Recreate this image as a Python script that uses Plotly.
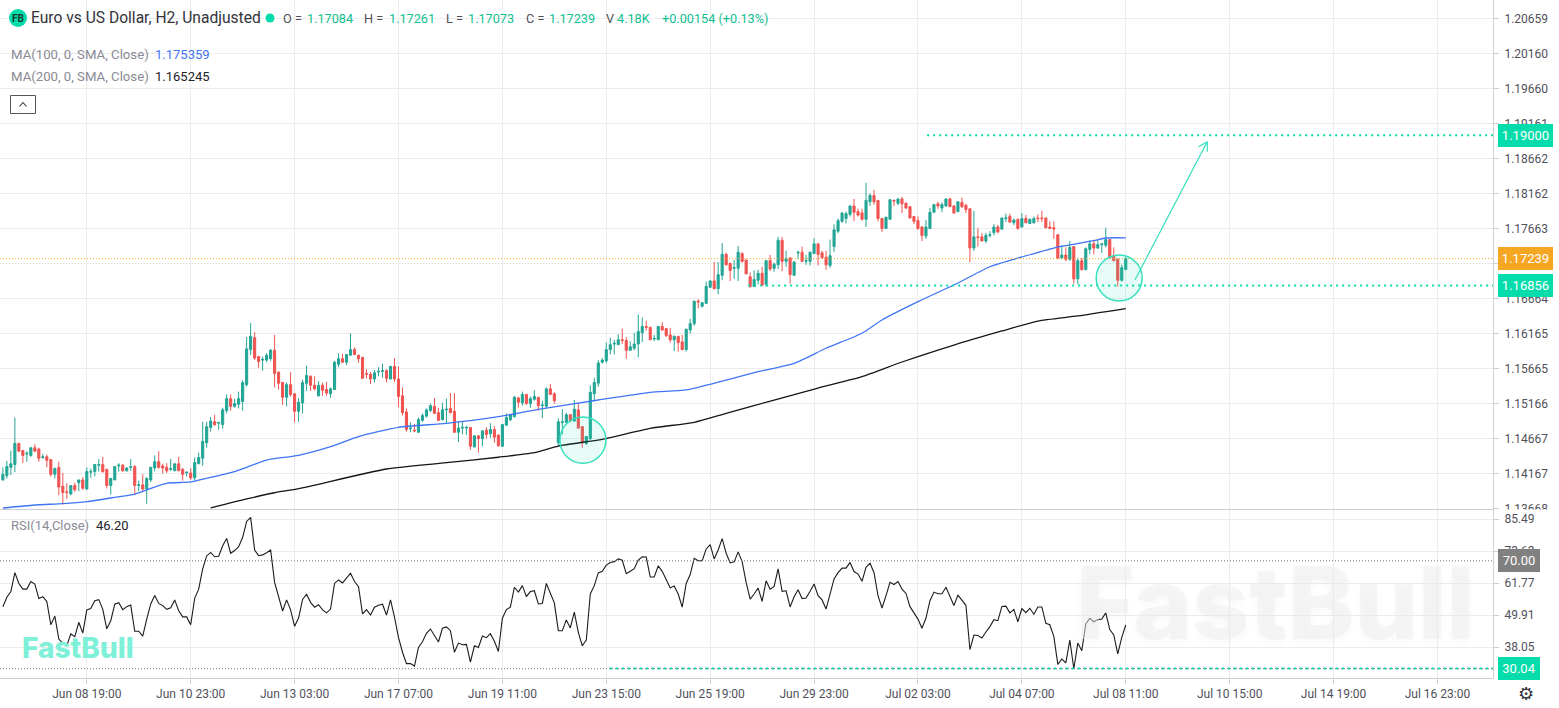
import plotly.graph_objects as go

W, H = 1559, 708

bar_index = list(range(-21, 261))

opens = [
1.1408,1.1414,1.1426,1.1430,1.1460,1.1450,1.1445,1.1443,1.1454,1.1452,
1.1440,1.1441,1.1437,1.1416,1.1426,1.1399,1.1391,1.1388,1.1400,1.1404,
1.1408,1.1395,1.1419,1.1420,1.1429,1.1430,1.1423,1.1400,1.1408,1.1428,
1.1429,1.1421,1.1426,1.1427,1.1400,1.1401,1.1395,1.1408,1.1425,1.1434,
1.1428,1.1426,1.1423,1.1421,1.1431,1.1423,1.1418,1.1418,1.1411,1.1431,
1.1439,1.1461,1.1483,1.1491,1.1489,1.1487,1.1507,1.1524,1.1513,1.1516,
1.1520,1.1544,1.1594,1.1611,1.1584,1.1579,1.1579,1.1581,1.1593,1.1562,
1.1547,1.1526,1.1544,1.1531,1.1506,1.1518,1.1546,1.1556,1.1543,1.1528,
1.1543,1.1537,1.1531,1.1537,1.1573,1.1581,1.1576,1.1586,1.1594,1.1586,
1.1583,1.1560,1.1559,1.1552,1.1562,1.1563,1.1564,1.1552,1.1570,1.1552,
1.1528,1.1505,1.1481,1.1479,1.1476,1.1493,1.1499,1.1507,1.1513,1.1504,
1.1494,1.1508,1.1510,1.1506,1.1476,1.1482,1.1482,1.1483,1.1455,1.1471,
1.1467,1.1479,1.1474,1.1480,1.1472,1.1456,1.1486,1.1494,1.1498,1.1525,
1.1518,1.1530,1.1517,1.1523,1.1526,1.1514,1.1513,1.1538,1.1531,1.1461,
1.1490,1.1490,1.1501,1.1492,1.1508,1.1484,1.1460,1.1467,1.1531,1.1546,
1.1576,1.1578,1.1594,1.1602,1.1601,1.1608,1.1607,1.1593,1.1596,1.1602,
1.1618,1.1627,1.1626,1.1609,1.1608,1.1627,1.1624,1.1615,1.1608,1.1613,
1.1605,1.1594,1.1622,1.1631,1.1663,1.1656,1.1660,1.1683,1.1692,1.1681,
1.1700,1.1730,1.1717,1.1710,1.1710,1.1731,1.1722,1.1698,1.1684,1.1693,
1.1703,1.1687,1.1721,1.1710,1.1715,1.1750,1.1720,1.1725,1.1700,1.1732,
1.1733,1.1720,1.1720,1.1731,1.1745,1.1732,1.1726,1.1714,1.1741,1.1763,
1.1777,1.1781,1.1787,1.1799,1.1791,1.1789,1.1780,1.1805,1.1814,1.1807,
1.1781,1.1767,1.1780,1.1807,1.1803,1.1809,1.1803,1.1798,1.1784,1.1778,
1.1769,1.1756,1.1767,1.1790,1.1802,1.1796,1.1799,1.1809,1.1799,1.1791,
1.1804,1.1800,1.1795,1.1739,1.1755,1.1755,1.1749,1.1757,1.1761,1.1769,
1.1766,1.1781,1.1784,1.1775,1.1780,1.1769,1.1781,1.1774,1.1775,1.1782,
1.1782,1.1782,1.1769,1.1768,1.1758,1.1725,1.1729,1.1723,1.1741,1.1695,
1.1721,1.1708,1.1737,1.1745,1.1739,1.1744,1.1743,1.1751,1.1728,1.1723,
1.1693,1.17084]

highs = [
1.1426,1.1435,1.1450,1.1497,1.1461,1.1450,1.1449,1.1454,1.1459,1.1454,
1.1445,1.1444,1.1437,1.1426,1.1434,1.1418,1.1403,1.1400,1.1404,1.1408,
1.1412,1.1426,1.1424,1.1430,1.1438,1.1441,1.1424,1.1411,1.1428,1.1432,
1.1431,1.1426,1.1438,1.1429,1.1407,1.1416,1.1412,1.1426,1.1443,1.1449,
1.1431,1.1432,1.1438,1.1431,1.1441,1.1425,1.1420,1.1425,1.1440,1.1447,
1.1491,1.1491,1.1498,1.1501,1.1491,1.1511,1.1530,1.1530,1.1524,1.1534,
1.1550,1.1612,1.1632,1.1619,1.1585,1.1584,1.1589,1.1595,1.1615,1.1562,
1.1548,1.1547,1.1562,1.1532,1.1525,1.1551,1.1571,1.1557,1.1556,1.1549,
1.1547,1.1548,1.1540,1.1578,1.1589,1.1588,1.1587,1.1617,1.1597,1.1587,
1.1583,1.1566,1.1562,1.1565,1.1569,1.1574,1.1566,1.1571,1.1582,1.1570,
1.1540,1.1510,1.1490,1.1488,1.1497,1.1503,1.1510,1.1517,1.1525,1.1511,
1.1518,1.1524,1.1532,1.1532,1.1492,1.1492,1.1485,1.1483,1.1471,1.1471,
1.1479,1.1483,1.1489,1.1485,1.1473,1.1488,1.1503,1.1502,1.1528,1.1527,
1.1534,1.1531,1.1527,1.1536,1.1526,1.1521,1.1540,1.1545,1.1533,1.1496,
1.1509,1.1504,1.1502,1.1522,1.1518,1.1485,1.1470,1.1543,1.1554,1.1579,
1.1582,1.1604,1.1611,1.1608,1.1616,1.1624,1.1612,1.1606,1.1618,1.1644,
1.1640,1.1635,1.1626,1.1615,1.1627,1.1633,1.1625,1.1625,1.1614,1.1613,
1.1615,1.1624,1.1638,1.1664,1.1666,1.1661,1.1691,1.1693,1.1719,1.1719,
1.1746,1.1732,1.1718,1.1722,1.1742,1.1733,1.1722,1.1704,1.1707,1.1708,
1.1712,1.1721,1.1729,1.1718,1.1755,1.1755,1.1735,1.1725,1.1720,1.1735,
1.1741,1.1729,1.1734,1.1753,1.1745,1.1735,1.1735,1.1751,1.1773,1.1781,
1.1790,1.1791,1.1800,1.1809,1.1795,1.1795,1.1832,1.1817,1.1822,1.1807,
1.1782,1.1783,1.1809,1.1808,1.1810,1.1812,1.1804,1.1799,1.1784,1.1784,
1.1770,1.1779,1.1796,1.1802,1.1805,1.1804,1.1810,1.1811,1.1800,1.1806,
1.1811,1.1802,1.1795,1.1792,1.1768,1.1760,1.1761,1.1763,1.1773,1.1772,
1.1782,1.1788,1.1788,1.1781,1.1781,1.1789,1.1786,1.1781,1.1784,1.1787,
1.1792,1.1782,1.1777,1.1777,1.1759,1.1743,1.1740,1.1749,1.1741,1.1725,
1.1725,1.1740,1.1750,1.1751,1.1751,1.1746,1.1768,1.1751,1.1740,1.1724,
1.1715,1.17261]

lows = [
1.1407,1.1410,1.1415,1.1419,1.1448,1.1432,1.1434,1.1441,1.1448,1.1434,
1.1438,1.1426,1.1413,1.1410,1.1386,1.1373,1.1381,1.1386,1.1391,1.1392,
1.1394,1.1394,1.1411,1.1413,1.1420,1.1418,1.1396,1.1387,1.1408,1.1420,
1.1420,1.1420,1.1421,1.1387,1.1392,1.1392,1.1374,1.1405,1.1420,1.1424,
1.1417,1.1418,1.1421,1.1421,1.1421,1.1407,1.1413,1.1408,1.1407,1.1431,
1.1428,1.1454,1.1477,1.1485,1.1480,1.1481,1.1503,1.1507,1.1511,1.1510,
1.1507,1.1541,1.1586,1.1579,1.1568,1.1564,1.1576,1.1578,1.1540,1.1537,
1.1515,1.1513,1.1527,1.1490,1.1491,1.1503,1.1535,1.1535,1.1536,1.1527,
1.1528,1.1528,1.1525,1.1537,1.1569,1.1575,1.1572,1.1586,1.1586,1.1575,
1.1553,1.1553,1.1545,1.1547,1.1556,1.1554,1.1547,1.1552,1.1548,1.1512,
1.1500,1.1477,1.1476,1.1476,1.1476,1.1491,1.1497,1.1505,1.1502,1.1492,
1.1493,1.1488,1.1503,1.1475,1.1462,1.1473,1.1472,1.1451,1.1455,1.1447,
1.1456,1.1467,1.1468,1.1461,1.1455,1.1456,1.1486,1.1492,1.1498,1.1511,
1.1514,1.1515,1.1511,1.1521,1.1507,1.1496,1.1511,1.1529,1.1517,1.1456,
1.1473,1.1489,1.1491,1.1492,1.1481,1.1454,1.1458,1.1465,1.1520,1.1541,
1.1574,1.1575,1.1587,1.1587,1.1601,1.1602,1.1581,1.1593,1.1593,1.1583,
1.1605,1.1621,1.1608,1.1606,1.1608,1.1621,1.1612,1.1604,1.1592,1.1591,
1.1593,1.1591,1.1617,1.1628,1.1653,1.1654,1.1660,1.1682,1.1680,1.1673,
1.1693,1.1714,1.1692,1.1695,1.1692,1.1718,1.1702,1.1682,1.1684,1.1687,
1.1685,1.1684,1.1706,1.1705,1.1709,1.1706,1.1712,1.1688,1.1700,1.1723,
1.1719,1.1715,1.1714,1.1731,1.1714,1.1724,1.1708,1.1711,1.1733,1.1760,
1.1775,1.1774,1.1784,1.1777,1.1784,1.1778,1.1769,1.1799,1.1801,1.1777,
1.1762,1.1766,1.1779,1.1799,1.1800,1.1789,1.1795,1.1781,1.1773,1.1765,
1.1749,1.1752,1.1766,1.1790,1.1795,1.1790,1.1798,1.1798,1.1788,1.1790,
1.1796,1.1789,1.1719,1.1735,1.1741,1.1749,1.1746,1.1754,1.1757,1.1760,
1.1765,1.1776,1.1775,1.1772,1.1765,1.1768,1.1775,1.1773,1.1774,1.1776,
1.1776,1.1767,1.1766,1.1752,1.1723,1.1723,1.1720,1.1721,1.1688,1.1687,
1.1707,1.1708,1.1730,1.1730,1.1738,1.1732,1.1740,1.1724,1.1720,1.1684,
1.1691,1.17073]

closes = [
1.1416,1.1427,1.1431,1.1460,1.1449,1.1443,1.1446,1.1454,1.1449,1.1439,
1.1441,1.1436,1.1416,1.1424,1.1398,1.1390,1.1390,1.1400,1.1394,1.1408,
1.1396,1.1420,1.1420,1.1430,1.1430,1.1420,1.1400,1.1410,1.1427,1.1429,
1.1421,1.1425,1.1427,1.1400,1.1401,1.1395,1.1410,1.1426,1.1434,1.1426,
1.1425,1.1421,1.1424,1.1431,1.1421,1.1416,1.1419,1.1411,1.1433,1.1440,
1.1463,1.1484,1.1492,1.1487,1.1490,1.1508,1.1524,1.1513,1.1517,1.1524,
1.1547,1.1595,1.1613,1.1582,1.1577,1.1580,1.1586,1.1593,1.1560,1.1546,
1.1526,1.1544,1.1530,1.1506,1.1519,1.1547,1.1557,1.1543,1.1538,1.1543,
1.1536,1.1532,1.1538,1.1576,1.1581,1.1576,1.1587,1.1594,1.1587,1.1581,
1.1553,1.1559,1.1552,1.1561,1.1563,1.1564,1.1553,1.1570,1.1552,1.1527,
1.1504,1.1480,1.1482,1.1478,1.1494,1.1500,1.1508,1.1514,1.1503,1.1493,
1.1508,1.1509,1.1504,1.1476,1.1482,1.1483,1.1483,1.1456,1.1471,1.1467,
1.1478,1.1473,1.1480,1.1469,1.1457,1.1487,1.1497,1.1501,1.1526,1.1519,
1.1530,1.1517,1.1524,1.1527,1.1514,1.1515,1.1538,1.1530,1.1521,1.1491,
1.1491,1.1501,1.1492,1.1509,1.1482,1.1461,1.1470,1.1533,1.1547,1.1575,
1.1579,1.1594,1.1601,1.1603,1.1608,1.1607,1.1593,1.1598,1.1602,1.1620,
1.1627,1.1626,1.1608,1.1610,1.1627,1.1622,1.1614,1.1608,1.1613,1.1604,
1.1594,1.1623,1.1631,1.1663,1.1662,1.1661,1.1684,1.1692,1.1681,1.1701,
1.1730,1.1715,1.1707,1.1711,1.1733,1.1720,1.1702,1.1684,1.1694,1.1703,
1.1686,1.1721,1.1709,1.1716,1.1750,1.1720,1.1724,1.1701,1.1719,1.1733,
1.1720,1.1721,1.1733,1.1745,1.1730,1.1725,1.1715,1.1728,1.1765,1.1778,
1.1789,1.1788,1.1799,1.1790,1.1786,1.1780,1.1807,1.1814,1.1805,1.1781,
1.1767,1.1783,1.1808,1.1806,1.1809,1.1802,1.1796,1.1782,1.1777,1.1767,
1.1757,1.1769,1.1790,1.1801,1.1799,1.1801,1.1809,1.1798,1.1789,1.1805,
1.1798,1.1794,1.1739,1.1755,1.1754,1.1749,1.1757,1.1758,1.1769,1.1762,
1.1782,1.1782,1.1776,1.1779,1.1767,1.1781,1.1775,1.1780,1.1781,1.1781,
1.1781,1.1768,1.1767,1.1766,1.1725,1.1729,1.1723,1.1740,1.1695,1.1721,
1.1708,1.1738,1.1745,1.1739,1.1744,1.1745,1.1751,1.1725,1.1721,1.1693,
1.1711,1.17239]

ma100_bars = [-21,-13,-6,0,7,12,16,20,26,30,37,40,45,53,61,68,78,90,103,113,128,141,150,160,168,177,185,194,199,208,218,226,234,242,252,255,260]
ma100_vals = [1.13679,1.13722,1.13741,1.13769,1.13832,1.13879,1.13960,1.14032,1.14051,1.14103,1.14198,1.14260,1.14364,1.14431,1.14554,1.14697,1.14831,1.14888,1.14982,1.15088,1.15221,1.15331,1.15364,1.15506,1.15625,1.15745,1.15959,1.16173,1.16363,1.16624,1.16891,1.17123,1.17262,1.17390,1.17494,1.17533,1.175359]

ma200_bars = [31,40,47,53,75,90,103,112,118,129,141,152,160,172,183,194,204,217,229,238,248,260]
ma200_vals = [1.13680,1.13808,1.13897,1.13955,1.14236,1.14326,1.14404,1.14469,1.14564,1.14660,1.14817,1.14903,1.15031,1.15220,1.15392,1.15554,1.15763,1.16005,1.16206,1.16348,1.16420,1.165245]

rsi = [
53.0,56.5,58.6,65.6,61.6,59.5,59.5,62.3,61.4,56.0,56.7,54.9,46.3,49.5,41.0,39.4,38.5,42.9,41.9,47.2,43.2,
51.8,52.3,55.2,55.6,52.0,44.8,47.8,53.9,54.5,51.9,53.0,53.6,43.9,43.9,42.1,48.4,54.0,57.1,54.2,53.4,
52.0,52.6,55.5,51.5,49.2,49.2,46.3,56.1,59.5,67.0,71.8,73.1,71.5,71.7,75.6,78.3,72.8,73.8,75.2,78.7,
84.6,86.1,74.0,71.9,72.2,73.0,74.0,62.0,56.5,51.4,55.5,51.8,45.7,48.8,55.7,57.6,54.6,52.8,53.7,51.8,
50.7,52.1,61.6,62.9,61.8,63.8,65.4,62.3,60.4,50.3,51.9,49.9,52.8,53.5,53.9,49.9,55.5,49.1,41.6,36.1,
31.9,31.9,31.0,37.9,40.0,43.1,44.7,42.3,39.9,45.0,45.5,44.1,36.1,39.5,38.9,39.0,32.4,38.5,37.9,42.1,
41.5,43.0,40.2,36.4,48.7,51.9,52.8,60.2,58.4,60.8,56.7,58.6,58.9,54.0,54.2,61.6,58.3,54.4,44.1,
44.1,48.1,45.1,51.0,43.5,38.5,40.6,57.7,60.8,65.5,66.1,68.4,69.4,69.7,70.7,70.2,65.2,66.1,67.1,70.3,
71.5,71.4,64.0,64.0,68.1,66.1,62.9,59.9,60.7,57.7,52.8,61.6,64.9,70.9,70.0,70.0,74.4,76.0,70.7,74.0,
78.2,72.8,69.2,69.6,73.3,69.7,62.0,55.8,57.7,59.9,55.0,62.6,59.5,60.5,67.0,58.7,58.9,52.9,56.7,59.3,
56.0,56.2,58.7,61.4,57.1,55.5,52.1,58.3,63.3,65.6,67.3,67.3,69.4,66.0,65.1,62.4,67.6,69.1,65.6,57.1,
52.5,57.1,62.0,61.2,62.3,59.5,57.9,53.0,50.8,48.4,45.0,48.8,55.2,58.4,57.8,57.8,60.2,56.5,53.4,57.3,
55.5,53.5,37.1,42.5,42.3,41.4,43.6,45.6,48.2,47.8,53.1,53.2,50.7,52.0,47.4,52.3,50.8,52.4,50.2,52.9,
52.9,46.8,46.3,41.9,31.6,33.6,32.2,40.6,30.0,39.5,36.7,46.6,48.7,47.4,48.2,48.4,50.7,44.5,42.5,35.5,
41.6,46.2]

price_ticks = [1.20659,1.20160,1.19660,1.19161,1.18662,1.18162,1.17663,1.17164,1.16664,1.16165,1.15665,1.15166,1.14667,1.14167,1.13668]
rsi_ticks = [85.49,73.63,61.77,49.91,38.05]
time_ticks = [0,26,52,78,104,130,156,182,208,234,260,286,312,338]
time_labels = ["Jun 08 19:00","Jun 10 23:00","Jun 13 03:00","Jun 17 07:00","Jun 19 11:00","Jun 23 15:00","Jun 25 19:00","Jun 29 23:00","Jul 02 03:00","Jul 04 07:00","Jul 08 11:00","Jul 10 15:00","Jul 14 19:00","Jul 16 23:00"]

assert len(opens) == len(highs) == len(lows) == len(closes) == len(bar_index) == len(rsi), (len(opens), len(highs), len(lows), len(closes), len(bar_index), len(rsi))

GRID = "#ececee"
AXIS = "#cfcfd3"
TEAL = "#05dcab"
TXT = "#50505a"
LBL = "#8a8a94"
FONT = "Roboto"

def px(x):
    return x / W

def py(y):
    return 1 - y / H

xr = [-21.72, 351.9]
fig = go.Figure()
fig.add_trace(go.Candlestick(
    x=bar_index, open=opens, high=highs, low=lows, close=closes,
    increasing=dict(line=dict(color="#22a595", width=1), fillcolor="#22a595"),
    decreasing=dict(line=dict(color="#ef5350", width=1), fillcolor="#ef5350"),
    whiskerwidth=0, showlegend=False, hoverinfo="skip", xaxis="x", yaxis="y"))
fig.add_trace(go.Scatter(x=ma100_bars, y=ma100_vals, mode="lines", line=dict(color="#3f75f5", width=1.3, shape="spline", smoothing=0.6), xaxis="x", yaxis="y", showlegend=False, hoverinfo="skip"))
fig.add_trace(go.Scatter(x=ma200_bars, y=ma200_vals, mode="lines", line=dict(color="#15151a", width=1.3, shape="spline", smoothing=0.6), xaxis="x", yaxis="y", showlegend=False, hoverinfo="skip"))
fig.add_trace(go.Scatter(x=bar_index, y=rsi, mode="lines", line=dict(color="#1c1c20", width=1.1), xaxis="x2", yaxis="y2", showlegend=False, hoverinfo="skip"))

ax_common = dict(range=xr, showgrid=True, gridcolor=GRID, gridwidth=1, zeroline=False, showline=True, linecolor=AXIS,
                 linewidth=1, tickmode="array", tickvals=time_ticks, fixedrange=True, automargin=False)
yx_common = dict(side="right", showgrid=True, gridcolor=GRID, gridwidth=1, zeroline=False, showline=True, linecolor=AXIS,
                 linewidth=1, ticks="outside", ticklen=5, tickcolor=AXIS, tickmode="array", fixedrange=True, automargin=False,
                 tickfont=dict(family=FONT, size=12, color=TXT), ticklabelstandoff=3)

shapes = []

def hline(y, x0, yref, color, dash, width):
    shapes.append(dict(type="line", xref="x", yref=yref, x0=x0, x1=xr[1], y0=y, y1=y,
                       line=dict(color=color, width=width, dash=dash), layer="above"))

hline(1.17239, xr[0], "y", "#f5a623", "1px,2px", 1)
hline(1.19000, 210.3, "y", TEAL, "2px,4px", 2)
hline(1.16856, 165.5, "y", TEAL, "2px,4px", 2)
hline(70, xr[0], "y2", "#77777f", "1px,2px", 1)
hline(30, xr[0], "y2", "#77777f", "1px,2px", 1)
hline(30.04, 130.9, "y2", TEAL, "2px,4px", 2)

for x0, x1, y0, y1 in [(118.4, 129.9, 1.14317, 1.14978), (252.6, 264.1, 1.16634, 1.17290)]:
    shapes.append(dict(type="circle", xref="x", yref="y", x0=x0, x1=x1, y0=y0, y1=y1,
                       fillcolor="rgba(5,220,171,0.09)", line=dict(color="#35e0bd", width=1.5), layer="above"))

for x0, y0, x1, y1 in [(262.3, 1.16934, 280.4, 1.18908), (278.2, 1.18836, 280.4, 1.18908), (280.4, 1.18765, 280.4, 1.18908)]:
    shapes.append(dict(type="line", xref="x", yref="y", x0=x0, x1=x1, y0=y0, y1=y1,
                       line=dict(color="#35e0bd", width=1.2), layer="above"))

# header furniture
shapes.append(dict(type="circle", xref="paper", yref="paper", x0=px(9), x1=px(27), y0=py(27), y1=py(9), fillcolor=TEAL, line=dict(width=0), layer="above"))
shapes.append(dict(type="circle", xref="paper", yref="paper", x0=px(265.5), x1=px(274.5), y0=py(22.5), y1=py(13.5), fillcolor=TEAL, line=dict(width=0), layer="above"))
shapes.append(dict(type="rect", xref="paper", yref="paper", x0=px(10.5), x1=px(35.5), y0=py(113.5), y1=py(95.5), fillcolor="white", line=dict(color="#55555c", width=1), layer="above"))
shapes.append(dict(type="path", xref="paper", yref="paper", path=f"M {px(19.5)} {py(106.5)} L {px(23)} {py(102.5)} L {px(26.5)} {py(106.5)}", line=dict(color="#33333a", width=1.1), layer="above"))
# clip the lowest price label at the pane edge
shapes.append(dict(type="rect", xref="paper", yref="paper", x0=px(1499), x1=1, y0=py(513), y1=py(509.5), fillcolor="white", line=dict(width=0), layer="above"))

ann = []

def label(x, y, text, color, size=13, anchor="left", family=FONT, weight=None):
    ann.append(dict(xref="paper", yref="paper", x=px(x), y=py(y), text=text, showarrow=False, xanchor=anchor, yanchor="middle",
                    font=dict(family=family, size=size, color=color, weight=weight or "normal"), borderpad=0))

label(18, 18, "FB", "#123a30", 10, "center", weight="bold")
label(30, 18, "Euro vs US Dollar, H2, Unadjusted", "#33333a", 15.6)
GREEN = "#0fbf8f"
for x, t, c in [(281.5, "O =", TXT), (306, "1.17084", GREEN), (363, "H =", TXT), (388, "1.17261", GREEN), (445, "L =", TXT), (467, "1.17073", GREEN),
                (524.5, "C =", TXT), (547.5, "1.17239", GREEN), (604.5, "V", TXT), (616, "4.18K", GREEN), (660.5, "+0.00154 (+0.13%)", GREEN)]:
    label(x, 18, t, c, 12.7)
label(10, 55, "MA(100, 0, SMA, Close)", LBL, 13.2)
label(154, 55, "1.175359", "#3f75f5", 13)
label(10, 77, "MA(200, 0, SMA, Close)", LBL, 13.2)
label(154, 77, "1.165245", "#222228", 13)
label(10, 525, "RSI(14,Close)", LBL, 13)
label(95, 525, "46.20", "#222228", 13)
label(1526, 693, "\u2699", "#33333a", 18, "center", family="DejaVu Sans")

# watermarks
ann.append(dict(xref="paper", yref="paper", x=px(78), y=py(648), text="FastBull", showarrow=False, xanchor="center", yanchor="middle",
                font=dict(family="Inter", size=28, color="#7ff0d8", weight=800)))
ann.append(dict(xref="paper", yref="paper", x=px(1275), y=py(602), text="FastBull", showarrow=False, xanchor="center", yanchor="middle",
                font=dict(family="Inter", size=100, color="rgba(238,238,240,0.5)", weight=800, shadow="0px 4px 10px rgba(0,0,0,0.05)")))

def badge(y, yref, text, color, width):
    ann.append(dict(xref="paper", yref=yref, x=px(1498), y=y, text=text, showarrow=False, xanchor="left", yanchor="middle",
                    width=width, height=23, align="center", valign="middle", bgcolor=color, borderpad=0, borderwidth=0,
                    font=dict(family=FONT, size=13, color="white", weight="normal")))

badge(1.19000, "y", "1.19000", TEAL, 55)
badge(1.17239, "y", "1.17239", "#f5a623", 55)
badge(1.16856, "y", "1.16856", TEAL, 55)
badge(70, "y2", "70.00", "#808080", 42)
badge(30.04, "y2", "30.04", TEAL, 42)

fig.update_layout(
    width=W, height=H, margin=dict(l=0, r=0, t=0, b=0, autoexpand=False), paper_bgcolor="white", plot_bgcolor="white",
    hovermode=False, showlegend=False, boxgap=0.25,
    xaxis=dict(ax_common, domain=[0, px(1493)], anchor="y", showticklabels=False, ticks="", rangeslider=dict(visible=False)),
    xaxis2=dict(ax_common, domain=[0, px(1493)], anchor="y2", ticktext=time_labels, ticks="outside", ticklen=5, tickcolor=AXIS,
                tickangle=0, tickfont=dict(family=FONT, size=12, color=TXT)),
    yaxis=dict(yx_common, domain=[py(509.2), 1], anchor="x", range=[1.20930 - 509.2 * 0.00014273, 1.20930], tickvals=price_ticks,
               ticktext=[f"{v:.5f}" for v in price_ticks]),
    yaxis2=dict(yx_common, domain=[py(678), py(510)], anchor="x2", range=[26.56, 88.83], tickvals=rsi_ticks,
                ticktext=[f"{v:.2f}" for v in rsi_ticks]),
    shapes=shapes, annotations=ann)

fig.write_html("out.html", config={"displayModeBar": False},
               post_script="document.body.style.margin='0';document.body.style.overflow='hidden';")
